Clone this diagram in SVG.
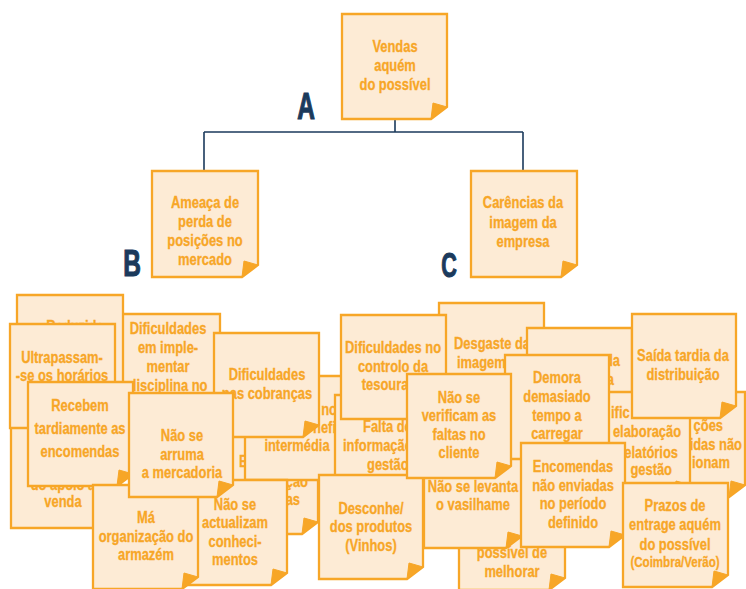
<svg xmlns="http://www.w3.org/2000/svg" width="746" height="589" viewBox="0 0 746 589">
  <style>
    .paper{fill:#fdebd5;stroke:#f7a627;stroke-width:2.3}
    .fold{fill:#f7a627;stroke:#f7a627;stroke-width:1;stroke-linejoin:round}
    text{font-family:"Liberation Sans",Arial,sans-serif;font-weight:bold;font-size:17px;fill:#f7a627;stroke:#f7a627;stroke-width:.3;text-anchor:middle}
    text.s{text-anchor:start}
    text.e{text-anchor:end}
    text.small{font-size:15px}
    text.lbl{fill:#1b3a5c;stroke:#1b3a5c;stroke-width:1.2;font-size:36px}
    .cn{fill:none;stroke:#1b3a5c;stroke-width:1.6}
  </style>
  <rect width="746" height="589" fill="#ffffff"/>

  <!-- connectors of the top tree -->
  <g id="connectors">
    <path class="cn" d="M395 119V132M204 132H523M204 132V171M523 132V171"/>
  </g>

  <!-- tree labels (condensed by a horizontal scale) -->
  <g id="labels">
    <text class="lbl" transform="matrix(.68 0 0 1 306 119)">A</text>
    <text class="lbl" transform="matrix(.68 0 0 1 132 276)">B</text>
    <text class="lbl" transform="matrix(.6 0 0 1 449 277)">C</text>
  </g>

  <!-- top tree -->
  <g id="n-vendas">
    <path class="paper" d="M342 14H447V107L431 119H342Z"/>
    <path class="fold" d="M447 107L433 103L431 119Z"/>
    <text transform="matrix(.76 0 0 1 395 52)">Vendas</text>
    <text transform="matrix(.76 0 0 1 395 71)">aquém</text>
    <text transform="matrix(.76 0 0 1 395 90)">do possível</text>
  </g>
  <g id="n-ameaca">
    <path class="paper" d="M152 171H258V265L242 277H152Z"/>
    <path class="fold" d="M258 265L244 261L242 277Z"/>
    <text transform="matrix(.76 0 0 1 205 208)">Ameaça de</text>
    <text transform="matrix(.76 0 0 1 205 227)">perda de</text>
    <text transform="matrix(.76 0 0 1 205 246)">posições no</text>
    <text transform="matrix(.76 0 0 1 205 265)">mercado</text>
  </g>
  <g id="n-carencias">
    <path class="paper" d="M471 171H577V265L561 277H471Z"/>
    <path class="fold" d="M577 265L563 261L561 277Z"/>
    <text transform="matrix(.76 0 0 1 523 208)">Carências da</text>
    <text transform="matrix(.76 0 0 1 523 228)">imagem da</text>
    <text transform="matrix(.76 0 0 1 523 247)">empresa</text>
  </g>

  <!-- heap of cause notes, back to front -->
  <g id="n-apoio">
    <path class="paper" d="M11 423H116V516L100 528H11Z"/>
    <path class="fold" d="M116 516L102 512L100 528Z"/>
    <text transform="matrix(.76 0 0 1 63 490)">do apoio à</text>
    <text transform="matrix(.76 0 0 1 63 507)">venda</text>
  </g>
  <g id="n-implementar">
    <path class="paper" d="M116 314H220V407L204 419H116Z"/>
    <path class="fold" d="M220 407L206 403L204 419Z"/>
    <text transform="matrix(.76 0 0 1 168 334)">Dificuldades</text>
    <text transform="matrix(.76 0 0 1 168 353)">em imple-</text>
    <text transform="matrix(.76 0 0 1 168 372)">mentar</text>
    <text transform="matrix(.76 0 0 1 168 391)">disciplina no</text>
  </g>
  <g id="n-reduzida">
    <path class="paper" d="M17 295H123V388L107 400H17Z"/>
    <path class="fold" d="M123 388L109 384L107 400Z"/>
    <text transform="matrix(.76 0 0 1 75 332)">Reduzida</text>
  </g>
  <g id="n-ultrapassam">
    <path class="paper" d="M10 324H115V416L99 428H10Z"/>
    <path class="fold" d="M115 416L101 412L99 428Z"/>
    <text transform="matrix(.76 0 0 1 62 363)">Ultrapassam-</text>
    <text transform="matrix(.76 0 0 1 62 381)">-se os horários</text>
  </g>
  <g id="n-e">
    <path class="paper" d="M214 430H318V522L302 534H214Z"/>
    <path class="fold" d="M318 522L304 518L302 534Z"/>
    <text class="s" transform="matrix(.76 0 0 1 239 467)">E</text>
    <text class="e" transform="matrix(.76 0 0 1 308 487)">ção</text>
    <text class="e" transform="matrix(.76 0 0 1 300 505)">as</text>
  </g>
  <g id="n-intermedia">
    <path class="paper" d="M245 376H350V468L334 480H245Z"/>
    <path class="fold" d="M350 468L336 464L334 480Z"/>
    <text class="e" transform="matrix(.76 0 0 1 337 415)">no</text>
    <text class="e" transform="matrix(.76 0 0 1 336 433)">nefi</text>
    <text transform="matrix(.76 0 0 1 297 451)">intermédia</text>
  </g>
  <g id="n-cobrancas">
    <path class="paper" d="M214 333H319V425L303 437H214Z"/>
    <path class="fold" d="M319 425L305 421L303 437Z"/>
    <text transform="matrix(.76 0 0 1 267 380)">Dificuldades</text>
    <text transform="matrix(.76 0 0 1 267 399)">nas cobranças</text>
  </g>
  <g id="n-recebem">
    <path class="paper" d="M28 382H133V474L117 486H28Z"/>
    <path class="fold" d="M133 474L119 470L117 486Z"/>
    <text transform="matrix(.76 0 0 1 80 411)">Recebem</text>
    <text transform="matrix(.76 0 0 1 80 434)">tardiamente as</text>
    <text transform="matrix(.76 0 0 1 80 457)">encomendas</text>
  </g>
  <g id="n-actualizam">
    <path class="paper" d="M183 480H287V573L271 585H183Z"/>
    <path class="fold" d="M287 573L273 569L271 585Z"/>
    <text transform="matrix(.76 0 0 1 235 510)">Não se</text>
    <text transform="matrix(.76 0 0 1 235 528)">actualizam</text>
    <text transform="matrix(.76 0 0 1 235 547)">conheci-</text>
    <text transform="matrix(.76 0 0 1 235 565)">mentos</text>
  </g>
  <g id="n-ma-organizacao">
    <path class="paper" d="M93 485H198V577L182 589H93Z"/>
    <path class="fold" d="M198 577L184 573L182 589Z"/>
    <text transform="matrix(.76 0 0 1 146 523)">Má</text>
    <text transform="matrix(.76 0 0 1 146 542)">organização do</text>
    <text transform="matrix(.76 0 0 1 146 560)">armazém</text>
  </g>
  <g id="n-arruma">
    <path class="paper" d="M129 393H233V485L217 497H129Z"/>
    <path class="fold" d="M233 485L219 481L217 497Z"/>
    <text transform="matrix(.76 0 0 1 182 441)">Não se</text>
    <text transform="matrix(.76 0 0 1 182 460)">arruma</text>
    <text transform="matrix(.76 0 0 1 182 478)">a mercadoria</text>
  </g>
  <g id="n-desgaste">
    <path class="paper" d="M439 303H544V396L528 408H439Z"/>
    <path class="fold" d="M544 396L530 392L528 408Z"/>
    <text transform="matrix(.76 0 0 1 492 349)">Desgaste da</text>
    <text class="s" transform="matrix(.76 0 0 1 457 368)">imagem</text>
  </g>
  <g id="n-da">
    <path class="paper" d="M527 328H632V421L616 433H527Z"/>
    <path class="fold" d="M632 421L618 417L616 433Z"/>
    <text class="e" transform="matrix(.76 0 0 1 620 366)">da</text>
    <text class="e" transform="matrix(.76 0 0 1 614 385)">a</text>
  </g>
  <g id="n-coes">
    <path class="paper" d="M640 392H745V485L729 497H640Z"/>
    <path class="fold" d="M745 485L731 481L729 497Z"/>
    <text class="e" transform="matrix(.76 0 0 1 723 431)">ções</text>
    <text class="e" transform="matrix(.76 0 0 1 742 450)">idas não</text>
    <text class="e" transform="matrix(.76 0 0 1 730 468)">ionam</text>
  </g>
  <g id="n-relatorios">
    <path class="paper" d="M585 392H690V485L674 497H585Z"/>
    <path class="fold" d="M690 485L676 481L674 497Z"/>
    <text class="s" transform="matrix(.76 0 0 1 611 418)">ific</text>
    <text transform="matrix(.76 0 0 1 647 437)">elaboração</text>
    <text class="e" transform="matrix(.76 0 0 1 678 458)">relatórios</text>
    <text class="e" transform="matrix(.76 0 0 1 672 475)">gestão</text>
  </g>
  <g id="n-falta">
    <path class="paper" d="M335 395H440V488L424 500H335Z"/>
    <path class="fold" d="M440 488L426 484L424 500Z"/>
    <text class="s" transform="matrix(.76 0 0 1 363 432)">Falta de</text>
    <text class="s" transform="matrix(.76 0 0 1 343 451)">informação</text>
    <text class="s" transform="matrix(.76 0 0 1 367 470)">gestão</text>
  </g>
  <g id="n-tesouraria">
    <path class="paper" d="M341 315H446V407L430 419H341Z"/>
    <path class="fold" d="M446 407L432 403L430 419Z"/>
    <text transform="matrix(.76 0 0 1 393 353)">Dificuldades no</text>
    <text transform="matrix(.76 0 0 1 393 372)">controlo da</text>
    <text transform="matrix(.76 0 0 1 393 390)">tesouraria</text>
  </g>
  <g id="n-desconhe">
    <path class="paper" d="M319 475H423V567L407 579H319Z"/>
    <path class="fold" d="M423 567L409 563L407 579Z"/>
    <text transform="matrix(.76 0 0 1 371 514)">Desconhe/</text>
    <text transform="matrix(.76 0 0 1 371 532)">dos produtos</text>
    <text transform="matrix(.76 0 0 1 371 551)">(Vinhos)</text>
  </g>
  <g id="n-melhorar">
    <path class="paper" d="M459 485H565V578L549 590H459Z"/>
    <path class="fold" d="M565 578L551 574L549 590Z"/>
    <text transform="matrix(.76 0 0 1 512 558)">possível de</text>
    <text transform="matrix(.76 0 0 1 512 577)">melhorar</text>
  </g>
  <g id="n-vasilhame">
    <path class="paper" d="M424 443H522V536L506 548H424Z"/>
    <path class="fold" d="M522 536L508 532L506 548Z"/>
    <text transform="matrix(.76 0 0 1 473 492)">Não se levanta</text>
    <text transform="matrix(.76 0 0 1 473 510)">o vasilhame</text>
  </g>
  <g id="n-demora">
    <path class="paper" d="M505 355H609V447L593 459H505Z"/>
    <path class="fold" d="M609 447L595 443L593 459Z"/>
    <text transform="matrix(.76 0 0 1 557 383)">Demora</text>
    <text transform="matrix(.76 0 0 1 557 402)">demasiado</text>
    <text transform="matrix(.76 0 0 1 557 421)">tempo a</text>
    <text transform="matrix(.76 0 0 1 557 439)">carregar</text>
  </g>
  <g id="n-verificam">
    <path class="paper" d="M407 374H511V466L495 478H407Z"/>
    <path class="fold" d="M511 466L497 462L495 478Z"/>
    <text transform="matrix(.76 0 0 1 459 403)">Não se</text>
    <text transform="matrix(.76 0 0 1 459 421)">verificam as</text>
    <text transform="matrix(.76 0 0 1 459 440)">faltas no</text>
    <text transform="matrix(.76 0 0 1 459 458)">cliente</text>
  </g>
  <g id="n-encomendas">
    <path class="paper" d="M521 443H625V535L609 547H521Z"/>
    <path class="fold" d="M625 535L611 531L609 547Z"/>
    <text transform="matrix(.76 0 0 1 573 472)">Encomendas</text>
    <text transform="matrix(.76 0 0 1 573 491)">não enviadas</text>
    <text transform="matrix(.76 0 0 1 573 509)">no período</text>
    <text transform="matrix(.76 0 0 1 573 528)">definido</text>
  </g>
  <g id="n-saida">
    <path class="paper" d="M632 314H736V406L720 418H632Z"/>
    <path class="fold" d="M736 406L722 402L720 418Z"/>
    <text transform="matrix(.76 0 0 1 683 361)">Saída tardia da</text>
    <text transform="matrix(.76 0 0 1 683 380)">distribuição</text>
  </g>
  <g id="n-prazos">
    <path class="paper" d="M623 483H728V575L712 587H623Z"/>
    <path class="fold" d="M728 575L714 571L712 587Z"/>
    <text transform="matrix(.76 0 0 1 675 511)">Prazos de</text>
    <text transform="matrix(.76 0 0 1 675 530)">entrage aquém</text>
    <text transform="matrix(.76 0 0 1 675 550)">do possível</text>
    <text class="small" transform="matrix(.77 0 0 1 675 567)">(Coimbra/Verão)</text>
  </g>
</svg>
